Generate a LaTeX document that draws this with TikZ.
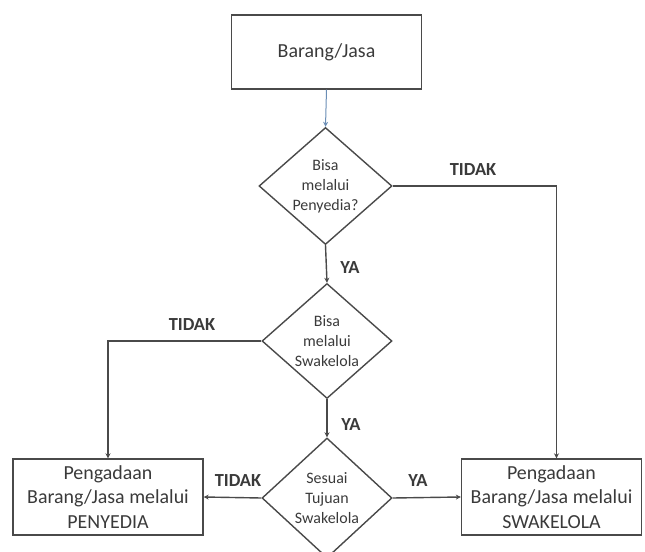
\documentclass[tikz,border=0pt]{standalone}
\usepackage{fontspec}
\setmainfont{Carlito}
\usetikzlibrary{shapes.geometric,arrows.meta}
\definecolor{ln}{HTML}{4A4A4A}
\definecolor{tx}{HTML}{3A3A3A}
\definecolor{bl}{HTML}{6A8DB5}
\tikzset{
  box/.style={draw=ln,line width=1.4bp,rectangle,inner sep=0pt,minimum height=76bp,align=center,text=tx,font=\fontsize{20}{24.5}\selectfont},
  dia/.style={draw=ln,line width=1.4bp,diamond,inner sep=0pt},
  dtext/.style={align=center,text=tx,font=\fontsize{16}{20}\selectfont},
  conn/.style={draw=ln,line width=1.4bp,-{Stealth[length=5bp,width=5bp]}},
  lab/.style={text=tx,font=\bfseries\fontsize{18.5}{20}\selectfont}
}
\begin{document}
\begin{tikzpicture}[x=1bp,y=-1bp]
\useasboundingbox (0,0) rectangle (645,552);
\clip (0,0) rectangle (645,552);
\node[box,minimum width=190bp,minimum height=74bp] (top) at (326.5,52) {Barang/Jasa};
\node[dia,minimum width=133bp,minimum height=117bp,label={[dtext]center:Bisa\\melalui\\Penyedia?}] (d1) at (325.5,186) {};
\node[dia,minimum width=130bp,minimum height=115bp,label={[dtext]center:Bisa\\melalui\\Swakelola}] (d2) at (327,341) {};
\node[dia,minimum width=130bp,minimum height=120bp,label={[dtext]center:Sesuai\\Tujuan\\Swakelola}] (d3) at (327,498) {};
\node[box,minimum width=190bp] (py) at (108,497) {Pengadaan\\Barang/Jasa melalui\\PENYEDIA};
\node[box,minimum width=180bp] (sw) at (551.5,497) {Pengadaan\\Barang/Jasa melalui\\SWAKELOLA};
\draw[conn,draw=bl,line width=1bp] (top.south) -- (d1.north);
\draw[conn] (d1.south) -- (d2.north);
\draw[conn] (d1.east) -| ([xshift=5bp]sw.north);
\draw[conn] (d2.west) -| (py.north);
\draw[conn] (d2.south) -- (d3.north);
\draw[conn] (d3.west) -- (py.east);
\draw[conn] (d3.east) -- (sw.west);
\node[lab] (l1) at (473,170) {TIDAK};
\node[lab] (l2) at (350,268) {YA};
\node[lab] (l3) at (192,325) {TIDAK};
\node[lab] (l4) at (351,425) {YA};
\node[lab] (l5) at (238,481) {TIDAK};
\node[lab] (l6) at (418,481) {YA};
\end{tikzpicture}
\end{document}
